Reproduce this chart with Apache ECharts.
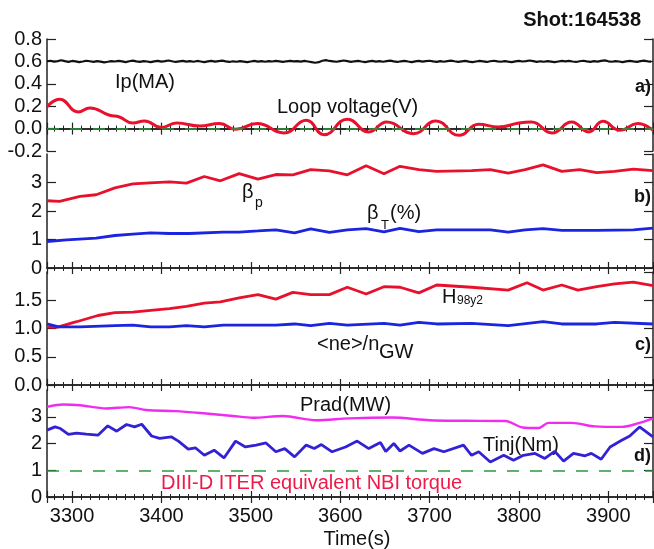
<!DOCTYPE html>
<html>
<head>
<meta charset="utf-8">
<script src="https://cdn.jsdelivr.net/npm/echarts@6/dist/echarts.min.js"></script>
<style>
  html, body { margin: 0; padding: 0; background: #fff; }
  #chart { width: 654px; height: 549px; }
</style>
</head>
<body>
<div id="chart"></div>
<script>
// time range of the shot window (s)
const timeMin = 3272;
const timeMax = 3950;

// panel a) plasma current, sampled every 4 s from 3272
const ipStart = 3272;
const ipStep = 4;
const ipVals = [
  0.601,0.606,0.598,0.603,0.610,0.602,0.596,0.604,0.600,0.593,
  0.599,0.606,0.601,0.596,0.603,0.598,0.592,0.597,0.603,0.599,
  0.605,0.600,0.594,0.601,0.607,0.600,0.596,0.603,0.599,0.593,
  0.600,0.605,0.598,0.602,0.608,0.601,0.595,0.600,0.605,0.598,
  0.602,0.597,0.604,0.599,0.594,0.600,0.605,0.598,0.603,0.607,
  0.600,0.595,0.601,0.597,0.603,0.598,0.593,0.599,0.604,0.598,
  0.602,0.597,0.603,0.599,0.604,0.600,0.596,0.601,0.605,0.600,
  0.602,0.598,0.604,0.599,0.594,0.588,0.593,0.606,0.611,0.604,
  0.601,0.597,0.603,0.608,0.602,0.596,0.601,0.605,0.599,0.594,
  0.600,0.604,0.598,0.603,0.597,0.602,0.607,0.600,0.595,0.601,
  0.605,0.599,0.594,0.600,0.604,0.598,0.602,0.606,0.600,0.596,
  0.602,0.597,0.603,0.607,0.601,0.596,0.600,0.604,0.598,0.593,
  0.599,0.604,0.600,0.595,0.601,0.606,0.600,0.597,0.603,0.598,
  0.594,0.600,0.605,0.599,0.603,0.608,0.602,0.596,0.601,0.597,
  0.603,0.598,0.593,0.599,0.604,0.600,0.605,0.599,0.595,0.601,
  0.606,0.600,0.596,0.602,0.598,0.604,0.609,0.601,0.597,0.603,
  0.599,0.594,0.600,0.605,0.600,0.596,0.602,0.607,0.601,0.598
];

// panel a) loop voltage
const vloopTime = [3272,3286,3307,3320,3342,3353,3368,3381,3400,3417,3443,3465,3483,3507,3537,3562,3582,
  3608,3632,3652,3682,3707,3733,3755,3777,3800,3814,3837,3859,3878,3894,3913,3933,3950];
const vloopVals = [0.194,0.263,0.149,0.185,0.119,0.104,0.050,0.068,0.009,0.050,0.023,0.045,-0.006,0.045,-0.039,0.074,-0.054,
  0.083,-0.030,0.059,-0.045,0.068,-0.060,0.039,0.014,0.050,0.059,-0.039,0.059,-0.030,0.065,-0.015,0.045,-0.015];
const vloopRef = 0;

// panel b) beta_p and beta_T
const betaPTime = [3272,3286,3309,3327,3348,3368,3387,3409,3428,3448,3466,3487,3508,3528,3547,3567,3588,
  3608,3629,3649,3667,3688,3708,3747,3768,3788,3807,3827,3848,3868,3887,3907,3928,3950];
const betaPVals = [2.36,2.34,2.51,2.57,2.81,2.95,2.99,3.02,2.98,3.21,3.06,3.31,3.12,3.28,3.27,3.45,3.41,
  3.27,3.59,3.31,3.57,3.45,3.39,3.42,3.45,3.33,3.45,3.62,3.39,3.45,3.35,3.39,3.47,3.42];
const betaTTime = [3272,3294,3327,3348,3368,3388,3409,3431,3469,3487,3508,3528,3549,3567,3588,
  3608,3629,3649,3667,3688,3708,3768,3788,3807,3827,3848,3887,3928,3950];
const betaTVals = [0.93,0.99,1.05,1.14,1.19,1.23,1.21,1.21,1.26,1.26,1.30,1.34,1.23,1.37,1.25,
  1.34,1.38,1.27,1.39,1.28,1.34,1.34,1.26,1.34,1.38,1.32,1.32,1.34,1.40];

// panel c) H98y2 and Greenwald fraction
const h98Time = [3272,3283,3305,3329,3348,3368,3388,3409,3428,3448,3466,3487,3508,3528,3547,3567,3588,
  3608,3629,3649,3667,3688,3708,3747,3788,3809,3827,3848,3866,3887,3907,3928,3950];
const h98Vals = [1.03,1.02,1.12,1.23,1.28,1.29,1.32,1.35,1.39,1.45,1.47,1.54,1.60,1.52,1.64,1.60,1.60,
  1.73,1.61,1.74,1.73,1.63,1.77,1.73,1.68,1.81,1.68,1.77,1.68,1.74,1.79,1.82,1.76];
const fgwTime = [3272,3285,3309,3348,3368,3388,3409,3428,3448,3469,3487,3528,3549,3567,3588,
  3608,3649,3667,3688,3708,3747,3788,3827,3848,3887,3907,3950];
const fgwVals = [1.08,1.03,1.03,1.05,1.06,1.03,1.03,1.05,1.03,1.06,1.06,1.06,1.08,1.05,1.09,
  1.06,1.09,1.06,1.11,1.08,1.09,1.05,1.12,1.08,1.08,1.11,1.08];

// panel d) radiated power and injected torque
const pradTime = [3272,3290,3309,3338,3364,3383,3416,3450,3480,3502,3536,3573,3610,3658,3700,3740,3785,
  3804,3822,3833,3859,3885,3915,3933,3950];
const pradVals = [3.37,3.46,3.43,3.31,3.36,3.25,3.21,3.12,3.03,2.96,3.03,2.87,2.94,2.97,2.87,2.85,2.84,
  2.60,2.58,2.77,2.77,2.64,2.62,2.75,2.94];
const tinjTime = [3272,3281,3287,3296,3305,3316,3329,3340,3350,3361,3370,3378,3389,3398,3411,3419,3430,3438,
  3448,3459,3470,3483,3494,3506,3517,3528,3538,3549,3562,3571,3579,3591,3606,3619,3632,3645,3651,3660,3667,
  3677,3692,3705,3716,3738,3747,3755,3768,3783,3794,3805,3818,3829,3840,3850,3861,3874,3881,3892,3902,3915,
  3924,3935,3950];
const tinjVals = [2.50,2.62,2.56,2.34,2.39,2.35,2.31,2.66,2.46,2.71,2.62,2.72,2.28,2.19,2.25,2.09,1.79,1.84,
  1.56,1.75,1.46,2.09,1.87,1.94,2.02,1.69,1.81,1.50,1.94,1.81,1.96,1.69,1.87,2.09,1.81,2.04,1.70,2.00,1.72,
  1.94,1.63,1.81,1.69,1.94,1.56,1.69,1.31,1.56,1.37,1.56,1.63,1.44,1.71,1.34,1.63,1.54,1.63,1.41,1.87,2.12,
  2.28,2.62,2.25];
const torqueRef = 1;

const zip = (xs, ys) => xs.map((x, i) => [x, ys[i]]);
const ipData = ipVals.map((v, i) => [ipStart + i * ipStep, v]);

const FONT = 'Liberation Sans, Arial, sans-serif';
const axisColor = '#222';
const red = '#e8112d';
const blue = '#1b24de';

const grids = [
  { left: 47, right: 1, top: 39, height: 112 },
  { left: 47, right: 1, top: 154, height: 114 },
  { left: 47, right: 1, top: 272, height: 113 },
  { left: 47, right: 1, top: 390, height: 107 }
];

const yRanges = [
  { min: -0.2, max: 0.8, interval: 0.2, digits: 1, showMax: true },
  { min: 0, max: 4, interval: 1, digits: 0, showMax: false },
  { min: 0, max: 2, interval: 0.5, digits: 1, showMax: false },
  { min: 0, max: 4, interval: 1, digits: 0, showMax: false }
];

const xAxes = [];
const yAxes = [];
grids.forEach((g, i) => {
  ['bottom', 'top'].forEach(pos => {
    xAxes.push({
      type: 'value', gridIndex: i, position: pos,
      min: timeMin, max: timeMax, splitNumber: 6,
      axisLine: { show: true, lineStyle: { color: axisColor, width: 1.5 } },
      axisTick: { show: true, inside: true, length: 6, lineStyle: { color: axisColor, width: 1.2 } },
      minorTick: { show: true, splitNumber: 10, length: 3, lineStyle: { color: axisColor, width: 1 } },
      splitLine: { show: false },
      axisLabel: {
        show: i === 3 && pos === 'bottom', showMinLabel: false, showMaxLabel: false,
        color: '#111', fontSize: 20, fontFamily: FONT, margin: 9,
        formatter: v => String(Math.round(v))
      }
    });
  });
  const r = yRanges[i];
  ['left', 'right'].forEach(pos => {
    yAxes.push({
      type: 'value', gridIndex: i, position: pos,
      min: r.min, max: r.max, interval: r.interval,
      axisLine: { show: true, lineStyle: { color: axisColor, width: 1.5 } },
      axisTick: { show: true, inside: true, length: 9, lineStyle: { color: axisColor, width: 1.2 } },
      splitLine: { show: false },
      axisLabel: {
        show: pos === 'left', showMaxLabel: r.showMax, showMinLabel: true,
        color: '#111', fontSize: 20, fontFamily: FONT, margin: 5,
        formatter: v => v.toFixed(r.digits)
      }
    });
  });
});

const dashed = (value) => ({
  silent: true, symbol: 'none', label: { show: false },
  lineStyle: { color: '#2a9a3a', type: [12, 11], width: 1.5 },
  data: [{ yAxis: value }]
});

function line(name, panel, data, color, width, extra) {
  return Object.assign({
    name, type: 'line', xAxisIndex: panel * 2, yAxisIndex: panel * 2,
    data, showSymbol: false, symbol: 'none', animation: false,
    lineStyle: { color, width }
  }, extra || {});
}

const series = [
  line('Ip(MA)', 0, ipData, '#111', 2.2, { z: 2, markLine: dashed(vloopRef) }),
  line('Loop voltage(V)', 0, zip(vloopTime, vloopVals), red, 3, { z: 3, smooth: 0.5 }),
  line('βp', 1, zip(betaPTime, betaPVals), red, 2.8),
  line('βT(%)', 1, zip(betaTTime, betaTVals), blue, 2.8),
  line('H98y2', 2, zip(h98Time, h98Vals), red, 2.8),
  line('<ne>/nGW', 2, zip(fgwTime, fgwVals), blue, 2.8),
  line('Prad(MW)', 3, zip(pradTime, pradVals), '#f02cef', 2.4, { z: 2, smooth: 0.3, markLine: dashed(torqueRef) }),
  line('Tinj(Nm)', 3, zip(tinjTime, tinjVals), '#3322d4', 2.8, { z: 3 })
];

const txt = (text, x, y, opts) => ({
  type: 'text', x, y, silent: true,
  style: Object.assign({
    text, fill: '#111', font: '20px ' + FONT, verticalAlign: 'middle', align: 'left'
  }, opts || {})
});

const graphic = [
  txt('Shot:164538', 641, 20, { font: 'bold 20px ' + FONT, align: 'right' }),
  txt('Ip(MA)', 115, 82),
  txt('Loop voltage(V)', 277, 107),
  txt('a)', 651, 87, { font: 'bold 18px ' + FONT, align: 'right' }),
  txt('β', 242, 192),
  txt('p', 255, 203, { font: '14px ' + FONT }),
  txt('β', 367, 213),
  txt('T', 381, 225, { font: '13px ' + FONT }),
  txt('(%)', 390, 213),
  txt('b)', 651, 197, { font: 'bold 18px ' + FONT, align: 'right' }),
  txt('H', 442, 297),
  txt('98y2', 457, 301, { font: '12px ' + FONT }),
  txt('<ne>/n', 317, 344),
  txt('GW', 379, 352),
  txt('c)', 651, 345, { font: 'bold 18px ' + FONT, align: 'right' }),
  txt('Prad(MW)', 300, 405),
  txt('Tinj(Nm)', 483, 445),
  txt('d)', 651, 456, { font: 'bold 18px ' + FONT, align: 'right' }),
  txt('DIII-D ITER equivalent NBI torque', 161, 483, { fill: '#ee1a4a' }),
  txt('Time(s)', 357, 539, { align: 'center' })
];

const myChart = echarts.init(document.getElementById('chart'), null, { renderer: 'canvas' });
myChart.setOption({
  animation: false,
  backgroundColor: '#fff',
  grid: grids,
  xAxis: xAxes,
  yAxis: yAxes,
  series,
  graphic
});
</script>
</body>
</html>
